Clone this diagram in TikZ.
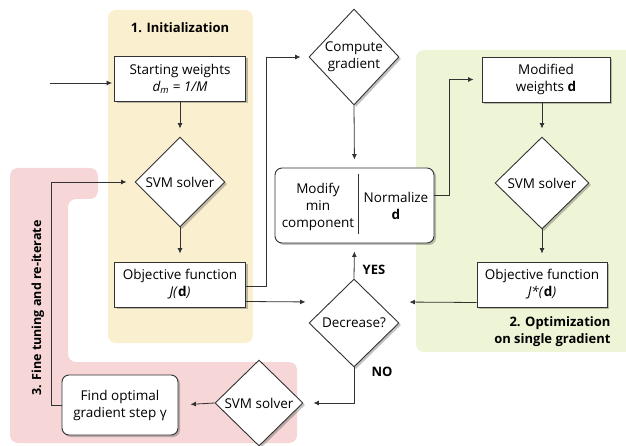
\documentclass[tikz,border=0pt]{standalone}
\usepackage{fontspec}
\setmainfont{Open Sans}
\newfontfamily\greekfont{Open Sans}
\usetikzlibrary{arrows.meta,positioning,shapes.geometric,shadows}

\definecolor{initbg}{RGB}{250,239,206}
\definecolor{optbg}{RGB}{238,245,214}
\definecolor{tunebg}{RGB}{246,214,214}
\definecolor{linegray}{RGB}{50,50,50}

\begin{document}
\begin{tikzpicture}[
    x=1pt, y=-1pt,
    font=\fontsize{13.5}{17}\selectfont,
    shade/.style={drop shadow={shadow xshift=2pt, shadow yshift=-2pt, opacity=0.35, fill=black!70}},
    box/.style={
        draw=linegray,
        line width=0.9pt,
        fill=white,
        minimum width=131pt,
        minimum height=45pt,
        inner sep=2pt,
        align=center,
        shade
    },
    rbox/.style={box, rounded corners=7pt},
    decision/.style={
        diamond,
        aspect=1,
        draw=linegray,
        line width=0.9pt,
        fill=white,
        inner sep=0pt,
        minimum width=90pt,
        minimum height=90pt,
        align=center,
        shade
    },
    label/.style={font=\fontsize{13}{17}\selectfont\bfseries},
    arrow/.style={-{Latex[length=5.5pt,width=5pt]}, draw=linegray, line width=0.8pt, shorten >=8pt},
    link/.style={draw=linegray, line width=0.8pt}
]
\useasboundingbox (0,0) rectangle (626,446);

% background regions
\fill[initbg, rounded corners=8pt] (108,10) rectangle (253,343);
\fill[optbg, rounded corners=8pt] (416,50) rectangle (640,352);
\fill[tunebg, rounded corners=8pt] (10,168) -- (98,168) -- (98,199) -- (68,199)
    -- (68,362) -- (297,362) -- (297,443) -- (10,443) -- cycle;

\node[label] (inittitle) at (180,28) {1. Initialization};
\node[label, align=right, anchor=east] (opttitle) at (614,332) {2. Optimization\\on single gradient};
\node[label, font=\fontsize{12.5}{17}\selectfont\bfseries, rotate=90] (tunetitle) at (38,308) {3. Fine tuning and re-iterate};

% initialization
\coordinate (entry) at (50,83);
\node[box] (start) at (180,79) {Starting weights\\\textit{d\textsubscript{m} = 1/M}};
\node[decision] (svmA) at (180,182) {SVM solver};
\node[box] (objA) at (180,284.5) {Objective function\\\textit{J(}\textbf{d}\textit{)}};

% gradient step
\node[decision, minimum height=96pt] (grad) at (354,57) {Compute\\gradient};
\node[rbox, minimum width=159pt, minimum height=75pt] (mod) at (354.5,205.5) {};
\node[align=center] (modmin) at (318,207) {Modify\\min\\component};
\node[align=center] (norm) at (396,206) {Normalize\\\textbf{d}};
\node[decision, minimum height=88pt] (dec) at (354,323) {Decrease?};

% optimization
\node[box, minimum width=128pt] (mw) at (546,79.5) {Modified\\weights \textbf{d}};
\node[decision, minimum width=94pt, minimum height=92pt] (svmB) at (542,183) {SVM solver};
\node[box, minimum width=130pt] (objB) at (542,284.5) {Objective function\\\textit{J*(}\textbf{d}\textit{)}};

% fine tuning
\node[decision, minimum width=88pt, minimum height=86pt] (svmC) at (259,403) {SVM solver};
\node[rbox, minimum width=116pt, minimum height=60pt] (find) at (120,405) {Find optimal\\gradient step {\greekfont γ}};

\node[label] (yes) at (374,270) {YES};
\node[label] (no) at (382,372) {NO};

\draw[link] ([xshift=3.5pt,yshift=-6pt]mod.north) -- ([xshift=3.5pt,yshift=9pt]mod.south);

\draw[arrow, shorten >=2pt] (entry) -- (start.west |- entry);
\draw[arrow] (start) -- (svmA);
\draw[arrow] (svmA) -- (objA);
\draw[arrow] ([yshift=-2pt]objA.east) -- ++(20,0) |- (grad.west);
\draw[arrow] ([yshift=-17pt]objA.east) -- ([xshift=5pt,yshift=21pt]dec.west);
\draw[arrow] (grad.south) -- (mod.north);
\draw[arrow] (dec.north) -- (mod.south);
\draw[arrow] ([yshift=10pt]mod.east) -- ++(15,0) |- (mw.west);
\draw[arrow] (svmB.north |- mw.south) -- (svmB.north);
\draw[arrow] (svmB) -- (objB);
\draw[arrow] ([yshift=-18pt]objB.west) -- ([xshift=2pt,yshift=21pt]dec.east);
\draw[arrow] (dec.south) |- ([xshift=2pt]svmC.east);
\draw[arrow, shorten >=12pt] (svmC.west) -- (find.east);
\draw[arrow] (find.west) -- ++(-10,0) |- (svmA.west);
\end{tikzpicture}
\end{document}
